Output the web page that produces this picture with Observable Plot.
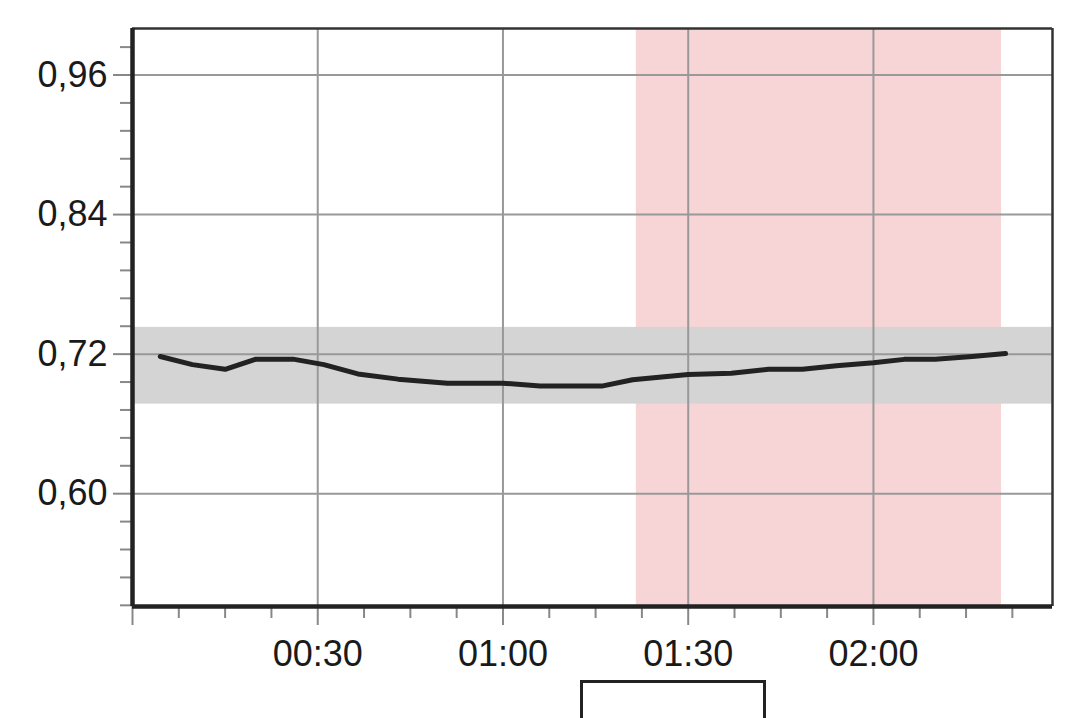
<!DOCTYPE html>
<html><head><meta charset="utf-8">
<script src="https://cdn.jsdelivr.net/npm/d3@7"></script>
<script src="https://cdn.jsdelivr.net/npm/@observablehq/plot@0.6"></script>
<style>
body{margin:0;background:#fff;}
#chart{position:absolute;left:0;top:0;}
#legend{position:absolute;left:580px;top:680px;width:186px;height:60px;border:3px solid #222;box-sizing:border-box;}
</style></head><body>
<div id="chart"></div><div id="legend"></div>
<script>
// time in minutes since start, value of the series
const minutes = [4.5, 9.7, 15, 20, 26, 31, 36.5, 43, 51, 60, 66, 76, 81, 90, 97, 103, 108.5, 114, 120, 125, 130, 136, 141.4];
const values  = [0.718, 0.711, 0.707, 0.7157, 0.7157, 0.711, 0.703, 0.6985, 0.695, 0.695, 0.6925, 0.6925, 0.698, 0.7025, 0.7035, 0.707, 0.707, 0.710, 0.7125, 0.7155, 0.7155, 0.718, 0.7205];
const shadedPeriod = [81.6, 140.75];
const referenceBand = [0.677, 0.743];
const xDomain = [0, 149];
const yDomain = [0.503, 1.0];
const xMajorTicks = [0, 30, 60, 90, 120];
const xTickLabels = ["", "00:30", "01:00", "01:30", "02:00"];
const xMinorTicks = [7.5, 15, 22.5, 37.5, 45, 52.5, 67.5, 75, 82.5, 97.5, 105, 112.5, 127.5, 135, 142.5];
const yMajorTicks = [0.60, 0.72, 0.84, 0.96];
const yTickLabels = ["0,60", "0,72", "0,84", "0,96"];
const yMinorTicks = [0.504, 0.528, 0.552, 0.576, 0.624, 0.648, 0.672, 0.696, 0.744, 0.768, 0.792, 0.816, 0.864, 0.888, 0.912, 0.936, 0.984];

const data = minutes.map((m, i) => ({m, v: values[i]}));
const xLab = new Map(xMajorTicks.map((t, i) => [t, xTickLabels[i]]));
const yLab = new Map(yMajorTicks.map((t, i) => [t, yTickLabels[i]]));

const chart = Plot.plot({
  width: 1081,
  height: 680,
  marginLeft: 132,
  marginTop: 28,
  marginRight: 29,
  marginBottom: 74,
  style: {fontFamily: "'Liberation Sans', Arial, Helvetica, sans-serif", color: "#1a1a1a", background: "#fff"},
  x: {domain: xDomain, axis: null},
  y: {domain: yDomain, axis: null},
  marks: [
    Plot.rect([{a: shadedPeriod[0], b: shadedPeriod[1]}], {x1: "a", x2: "b", fill: "#f7d4d5"}),
    Plot.rect([{a: referenceBand[0], b: referenceBand[1]}], {y1: "a", y2: "b", fill: "#d4d4d4"}),
    Plot.ruleY(yMajorTicks, {stroke: "#999", strokeWidth: 2}),
    Plot.ruleX(xMajorTicks.filter(d => d > 0), {stroke: "#999", strokeWidth: 2}),
    Plot.line(data, {x: "m", y: "v", stroke: "#222", strokeWidth: 5, strokeLinejoin: "round", strokeLinecap: "round"}),
    Plot.ruleY([yDomain[1]], {stroke: "#333", strokeWidth: 2.5}),
    Plot.ruleX([xDomain[1]], {stroke: "#333", strokeWidth: 2.5}),
    Plot.axisY({ticks: yMinorTicks, tickSize: 12, tickFormat: () => "", stroke: "#888", strokeWidth: 2}),
    Plot.axisY({ticks: yMajorTicks, tickSize: 19, tickPadding: 6, tickFormat: d => yLab.get(d), fontSize: 36, stroke: "#888", strokeWidth: 2, fill: "#1a1a1a"}),
    Plot.axisX({ticks: xMinorTicks, tickSize: 12, tickFormat: () => "", stroke: "#888", strokeWidth: 2}),
    Plot.axisX({ticks: xMajorTicks, tickSize: 19, tickPadding: 15, tickFormat: d => xLab.get(d), fontSize: 36, stroke: "#888", strokeWidth: 2, fill: "#1a1a1a"}),
    Plot.ruleX([xDomain[0]], {stroke: "#222", strokeWidth: 4.5, y1: yDomain[0], y2: yDomain[1]}),
    Plot.ruleY([yDomain[0]], {stroke: "#222", strokeWidth: 4.5})
  ]
});
document.getElementById("chart").appendChild(chart);
</script>
</body></html>
